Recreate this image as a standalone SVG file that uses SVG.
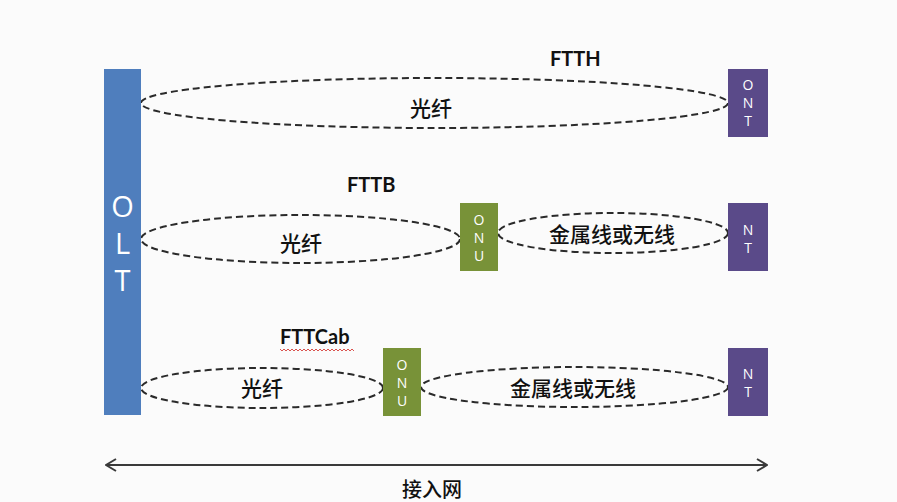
<svg xmlns="http://www.w3.org/2000/svg" width="897" height="502" viewBox="0 0 897 502">
<style>
.bg{fill:#FBFBFB}
.olt{fill:#4F7EBD}
.ont{fill:#5A4A89}
.onu{fill:#789238}
.box{font-family:"Open Sans","Liberation Sans",sans-serif;font-size:14px;fill:#FFFFFF;text-anchor:middle}
.big{font-family:"Open Sans","Liberation Sans",sans-serif;font-size:29px;fill:#FFFFFF;text-anchor:middle}
.title{font-family:"Lato","Liberation Sans",sans-serif;font-weight:bold;font-size:20px;fill:#111111}
.cn{font-family:"Noto Sans CJK SC",sans-serif;font-weight:500;font-size:21px;fill:#111111;text-anchor:middle;dominant-baseline:central}
.link{fill:none;stroke:#2A2A2A;stroke-width:2;stroke-dasharray:7 4}
.axis{fill:none;stroke:#3A3A3A;stroke-width:2}
</style>
<defs>
<marker id="chev" viewBox="0 0 12 14" refX="11" refY="7" markerWidth="12" markerHeight="14" markerUnits="userSpaceOnUse" orient="auto-start-reverse">
<path d="M1,1 L11,7 L1,13" fill="none" stroke="#3A3A3A" stroke-width="2"/>
</marker>
</defs>
<rect class="bg" x="0" y="0" width="897" height="502"/>

<g id="connectors">
<ellipse class="link" cx="434.5" cy="103" rx="293.5" ry="25"/>
<ellipse class="link" cx="300.5" cy="239" rx="159.5" ry="24"/>
<ellipse class="link" cx="613" cy="233" rx="115" ry="20"/>
<ellipse class="link" cx="262" cy="388" rx="121" ry="20"/>
<ellipse class="link" cx="574.5" cy="387" rx="153.5" ry="20"/>
<line class="axis" x1="106" y1="465" x2="767" y2="465" marker-start="url(#chev)" marker-end="url(#chev)"/>
</g>

<g id="OLT">
<rect class="olt" x="104" y="69" width="37" height="346"/>
<text class="big" x="122.5" y="217">O</text>
<text class="big" x="122.5" y="254">L</text>
<text class="big" x="122.5" y="291">T</text>
</g>

<g id="ONT">
<rect class="ont" x="728" y="69" width="40" height="68"/>
<text class="box" x="748" y="90">O</text>
<text class="box" x="748" y="108">N</text>
<text class="box" x="748" y="126">T</text>
</g>

<g id="ONU1">
<rect class="onu" x="460" y="203" width="38" height="68"/>
<text class="box" x="479" y="225">O</text>
<text class="box" x="479" y="243">N</text>
<text class="box" x="479" y="261">U</text>
</g>

<g id="NT1">
<rect class="ont" x="728" y="203" width="40" height="68"/>
<text class="box" x="748" y="235">N</text>
<text class="box" x="748" y="253">T</text>
</g>

<g id="ONU2">
<rect class="onu" x="383" y="348" width="38" height="68"/>
<text class="box" x="402" y="370">O</text>
<text class="box" x="402" y="388">N</text>
<text class="box" x="402" y="406">U</text>
</g>

<g id="NT2">
<rect class="ont" x="728" y="348" width="40" height="68"/>
<text class="box" x="748" y="379">N</text>
<text class="box" x="748" y="397">T</text>
</g>

<g id="labels">
<text class="title" x="550" y="66">FTTH</text>
<text class="title" x="347" y="192">FTTB</text>
<text class="title" x="280" y="344">FTTCab</text>
<path d="M280,349 l2,2 l2,-2 l2,2 l2,-2 l2,2 l2,-2 l2,2 l2,-2 l2,2 l2,-2 l2,2 l2,-2 l2,2 l2,-2 l2,2 l2,-2 l2,2 l2,-2 l2,2 l2,-2 l2,2 l2,-2 l2,2 l2,-2 l2,2 l2,-2 l2,2 l2,-2 l2,2 l2,-2 l2,2 l2,-2 l2,2 l2,-2 l2,2 l2,-2 l2,2" fill="none" stroke="#D9534F" stroke-width="1"/>
<text class="cn" x="431" y="107">光纤</text>
<text class="cn" x="301" y="242">光纤</text>
<text class="cn" x="612" y="233">金属线或无线</text>
<text class="cn" x="262" y="387">光纤</text>
<text class="cn" x="573" y="387">金属线或无线</text>
<text class="cn" x="432" y="488" style="font-size:20px">接入网</text>
</g>
</svg>
